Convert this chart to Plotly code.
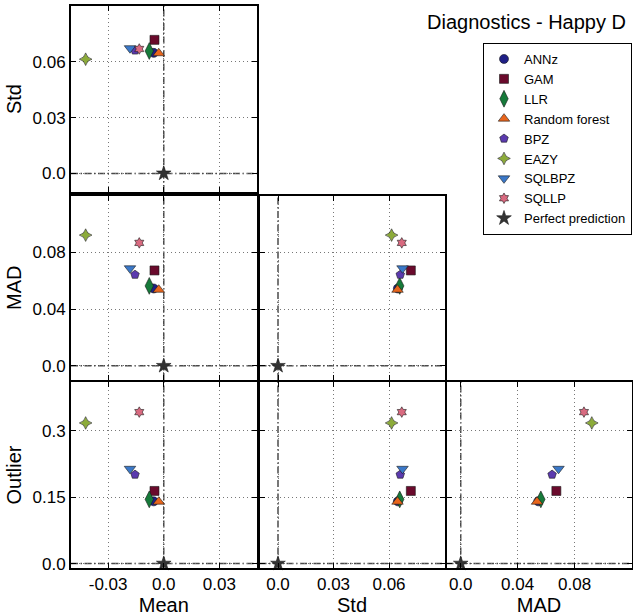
import plotly.graph_objects as go

# Photo-z diagnostics per method
methods = ["ANNz", "GAM", "LLR", "Random forest", "BPZ", "EAZY", "SQLBPZ", "SQLLP", "Perfect prediction"]
mean_vals = [-0.0054, -0.0050, -0.0078, -0.0027, -0.0155, -0.0421, -0.0182, -0.0132, 0.0]
std_vals = [0.0648, 0.0718, 0.0658, 0.0646, 0.0661, 0.0614, 0.0673, 0.0669, 0.0]
mad_vals = [0.0545, 0.0672, 0.0563, 0.0536, 0.0642, 0.0921, 0.0687, 0.0866, 0.0]
outlier_vals = [0.1405, 0.1640, 0.1450, 0.1397, 0.2009, 0.3175, 0.2140, 0.3420, 0.0]

colors = ["#1f1f86", "#6a0a2c", "#167a3a", "#e8651c", "#5b3aae", "#8cab3a", "#3b78c8", "#d96a80", "#333333"]
symbols = ["circle", "square", "diamond-tall", "triangle-up", "pentagon", "star-diamond",
           "triangle-down", "hexagram", "star"]
sizes = [9, 9, 12, 10, 9, 9, 10, 8, 11]

# Axis ranges and ticks
ranges = {
    "Mean": [-0.05, 0.05],
    "Std": [-0.01, 0.09],
    "MAD": [-0.01, 0.12],
    "Outlier": [-0.01, 0.41],
}
tick_vals = {
    "Mean": [-0.03, 0.0, 0.03],
    "Std": [0.0, 0.03, 0.06],
    "MAD": [0.0, 0.04, 0.08],
    "Outlier": [0.0, 0.15, 0.3],
}
tick_text = {
    "Mean": ["-0.03", "0.0", "0.03"],
    "Std": ["0.0", "0.03", "0.06"],
    "MAD": ["0.0", "0.04", "0.08"],
    "Outlier": ["0.0", "0.15", "0.3"],
}
values = {"Mean": mean_vals, "Std": std_vals, "MAD": mad_vals, "Outlier": outlier_vals}

W, H = 633, 616
FONT = "Liberation Sans, Arial, Helvetica, sans-serif"

# Pixel extents of the grid columns / rows
col_px = [(71, 256.5), (259.5, 444.5), (446.5, 631.5)]
row_px = [(6, 192), (195.5, 380), (382, 568)]

# (row, col, x variable, y variable)
panels = [
    (0, 0, "Mean", "Std"),
    (1, 0, "Mean", "MAD"),
    (1, 1, "Std", "MAD"),
    (2, 0, "Mean", "Outlier"),
    (2, 1, "Std", "Outlier"),
    (2, 2, "MAD", "Outlier"),
]

ZERO_LINE = dict(color="#4a4a4a", width=1.5, dash="7px,2.5px,1.5px,2.5px")

fig = go.Figure()
layout = {}
shapes = []

for p, (r, c, xv, yv) in enumerate(panels):
    n = p + 1
    xname = "xaxis" if n == 1 else f"xaxis{n}"
    yname = "yaxis" if n == 1 else f"yaxis{n}"
    xref = "x" if n == 1 else f"x{n}"
    yref = "y" if n == 1 else f"y{n}"
    x0, x1 = col_px[c]
    y0, y1 = row_px[r]
    common = dict(
        showline=True, linecolor="black", linewidth=2, mirror="ticks",
        ticks="inside", ticklen=5, tickwidth=1.3, tickcolor="black",
        showgrid=True, gridcolor="#777777", griddash="1px,3px", gridwidth=1,
        zeroline=False, automargin=False,
        tickfont=dict(size=17, family=FONT, color="black"),
    )
    layout[xname] = dict(
        common, domain=[x0 / W, x1 / W], range=ranges[xv], anchor=yref,
        tickmode="array", tickvals=tick_vals[xv], ticktext=tick_text[xv],
        showticklabels=(r == 2),
        title=dict(text=xv if r == 2 else "", font=dict(size=20, family=FONT, color="black"), standoff=4),
    )
    layout[yname] = dict(
        common, domain=[1 - y1 / H, 1 - y0 / H], range=ranges[yv], anchor=xref,
        tickmode="array", tickvals=tick_vals[yv], ticktext=tick_text[yv],
        showticklabels=(c == 0),
        title=dict(text=yv if c == 0 else "", font=dict(size=20, family=FONT, color="black"), standoff=6),
    )
    # zero reference lines
    shapes.append(dict(type="line", xref=xref, yref=f"{yref} domain", x0=0, x1=0, y0=0, y1=1,
                       line=ZERO_LINE, layer="below"))
    shapes.append(dict(type="line", xref=f"{xref} domain", yref=yref, x0=0, x1=1, y0=0, y1=0,
                       line=ZERO_LINE, layer="below"))

    for i, m in enumerate(methods):
        fig.add_trace(go.Scatter(
            x=[values[xv][i]], y=[values[yv][i]], mode="markers", name=m,
            legendgroup=m, showlegend=(p == 0), xaxis=xref, yaxis=yref,
            marker=dict(color=colors[i], symbol=symbols[i], size=sizes[i],
                        line=dict(color="#1a1a1a", width=0.6)),
            cliponaxis=False,
        ))

fig.update_layout(**layout)
fig.update_layout(
    width=W, height=H, margin=dict(l=0, r=0, t=0, b=0, autoexpand=False),
    paper_bgcolor="white", plot_bgcolor="white",
    font=dict(family=FONT, color="black"),
    shapes=shapes,
    showlegend=True,
    legend=dict(
        x=632 / W, xanchor="right", y=1 - 43 / H, yanchor="top",
        bgcolor="white", bordercolor="black", borderwidth=1,
        font=dict(size=13, family=FONT, color="black"),
        tracegroupgap=0, itemsizing="trace",
    ),
    annotations=[dict(
        text="Diagnostics - Happy D", xref="paper", yref="paper",
        x=628 / W, y=1 - 22 / H, xanchor="right", yanchor="middle",
        showarrow=False, font=dict(size=20, family=FONT, color="black"),
    )],
)

fig.write_html("out.html")
